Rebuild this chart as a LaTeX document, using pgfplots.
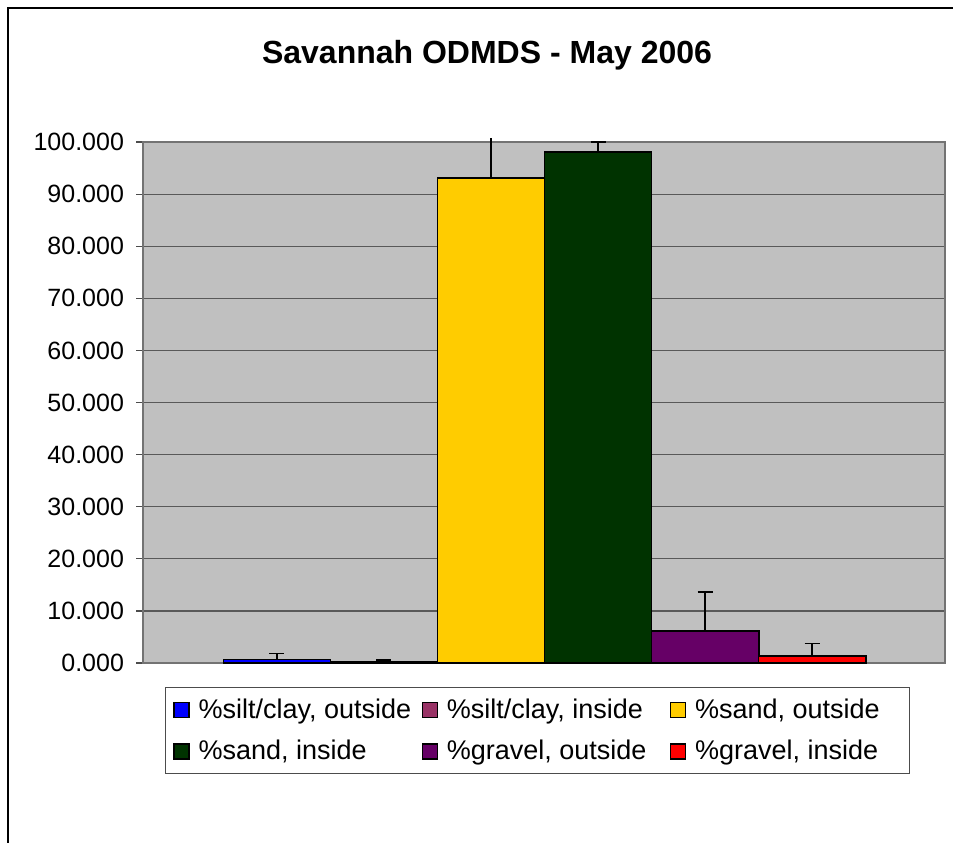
\documentclass[border=0pt]{standalone}
\usepackage{pgfplots}
\pgfplotsset{compat=1.18}
\usepackage{fontspec}
\setmainfont{Liberation Sans}
\definecolor{plotbg}{HTML}{C0C0C0}
\definecolor{siltout}{HTML}{0000FF}
\definecolor{siltin}{HTML}{993366}
\definecolor{sandout}{HTML}{FFCC00}
\definecolor{sandin}{HTML}{003300}
\definecolor{gravout}{HTML}{660066}
\definecolor{gravin}{HTML}{FF0000}
\begin{document}
\begin{tikzpicture}
\useasboundingbox (0,0) rectangle (476.5pt,-421pt);
\draw[line width=1pt] (3.75pt,-440pt) -- (3.75pt,-3.75pt) -- (490pt,-3.75pt);
\node[font=\fontsize{16}{19}\selectfont\bfseries] at (243.5pt,-27.5pt) {Savannah ODMDS - May 2006};
\begin{axis}[
  at={(71.5pt,-331.5pt)}, anchor=south west,
  width=401pt, height=260.5pt, scale only axis,
  xmin=143, xmax=945, ymin=0, ymax=100,
  xtick=\empty,
  ytick={0,10,...,100},
  tick align=outside, tick pos=left,
  major tick length=3.5pt,
  ymajorgrids,
  major grid style={draw=black!65, line width=0.6pt},
  axis line style={draw=black!55, line width=0.6pt},
  tick style={draw=black!70, line width=0.6pt},
  axis background/.style={fill=plotbg},
  clip=false,
  ybar, bar width=107.1, bar shift=0pt,
  tick label style={font=\fontsize{12.5}{15}\selectfont},
  /pgf/number format/assume math mode=true,
  yticklabel style={xshift=-2.5pt, /pgf/number format/.cd, fixed, fixed zerofill, precision=3, 1000 sep={}},
  error bars/y dir=plus, error bars/y explicit,
  error bars/error mark options={rotate=90, mark size=3.75pt, line width=0.75pt, draw=black},
  error bars/error bar style={line width=0.75pt, draw=black},
  legend columns=3,
  legend image code/.code={\draw[#1, line width=0.6pt, draw=black] (0pt,-3.75pt) rectangle (7.5pt,3.75pt);},
  legend style={at={(0.0274,-0.0461)}, anchor=north west, draw=black!70, line width=0.5pt,
    inner xsep=4pt, inner ysep=3.5pt, row sep=5.6pt, column sep=0pt,
    font=\fontsize{13.5}{16}\selectfont,
    /tikz/every odd column/.append style={column sep=2.5pt}},
  legend cell align=left,
]
\addplot[draw=black, line width=0.75pt, fill=siltout] coordinates {(276.8,0.70) +- (0,1.15)};
\addlegendentry{\makebox[109.5pt][l]{\%silt/clay, outside}}
\addplot[draw=black, line width=0.75pt, fill=siltin] coordinates {(383.9,0.25) +- (0,0.35)};
\addlegendentry{\makebox[109.5pt][l]{\%silt/clay, inside}}
\addplot[draw=black, line width=0.75pt, fill=sandout, error bars/error mark=none] coordinates {(491.0,93.1) +- (0,7.7)};
\addlegendentry{\makebox[101pt][l]{\%sand, outside}}
\addplot[draw=black, line width=0.75pt, fill=sandin] coordinates {(598.1,98.1) +- (0,1.9)};
\addlegendentry{\makebox[109.5pt][l]{\%sand, inside}}
\addplot[draw=black, line width=0.75pt, fill=gravout] coordinates {(705.2,6.1) +- (0,7.5)};
\addlegendentry{\makebox[109.5pt][l]{\%gravel, outside}}
\addplot[draw=black, line width=0.75pt, fill=gravin] coordinates {(812.2,1.35) +- (0,2.35)};
\addlegendentry{\makebox[101pt][l]{\%gravel, inside}}
\end{axis}
\end{tikzpicture}
\end{document}
